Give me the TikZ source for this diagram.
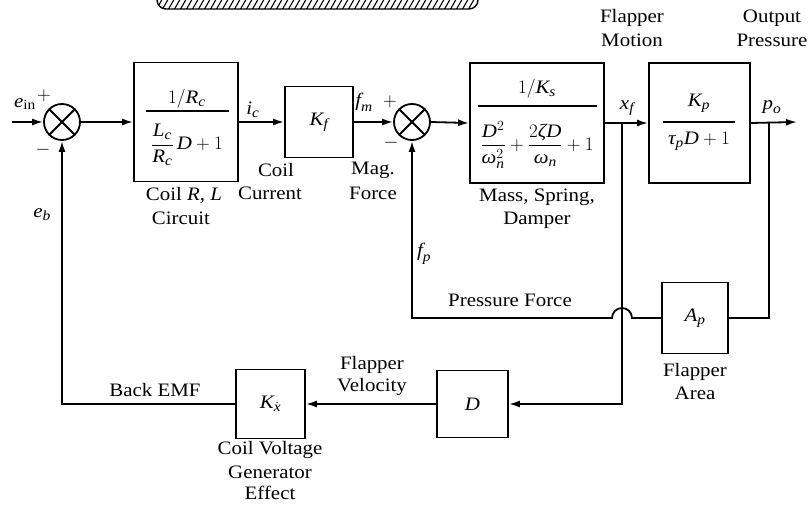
\RequirePackage{fix-cm}
\documentclass[tikz,border=0pt]{standalone}
\usepackage{amsmath}
\usepackage{fontspec}
\setmainfont{Liberation Serif}[FakeStretch=1.1]
\DeclareMathSizes{19}{19}{14}{10}
\newcommand{\mv}[1]{\textit{#1}}
\usetikzlibrary{arrows.meta}
\begin{document}
\begin{tikzpicture}[x=1pt,y=-1pt,
  every node/.style={font=\fontsize{19}{22}\selectfont, inner sep=0pt},
  blk/.style={draw, line width=1.8pt, inner sep=0pt},
  ln/.style={line width=1.8pt},
  arr/.style={line width=1.8pt, -{Latex[length=11pt,width=7pt]}},
  summer/.style={draw, circle, line width=1.8pt, minimum size=36pt, inner sep=0pt},
  fracline/.style={line width=1.4pt}]
\useasboundingbox (0,0) rectangle (809,505);

% hatched bar at the top edge
\begin{scope}
  \clip (0,0) rectangle (809,20);
  \begin{scope}
    \clip[rounded corners=9pt] (157,-12) rectangle (478,9);
    \foreach \x in {150,156,...,486} \draw[line width=1.1pt] (\x,10) -- (\x+8,-4);
  \end{scope}
  \draw[line width=1.4pt, rounded corners=9pt] (157,-12) rectangle (478,9);
\end{scope}

% summing junctions
\node[summer] (s1) at (62,122) {};
\draw[ln] (s1.north east) -- (s1.south west) (s1.north west) -- (s1.south east);
\node[summer] (s2) at (412,122) {};
\draw[ln] (s2.north east) -- (s2.south west) (s2.north west) -- (s2.south east);

% blocks
\node[blk, minimum width=104pt, minimum height=119pt] (b1) at (186,122) {};
\node[blk, minimum width=68pt, minimum height=71pt] (kf) at (319,122) {$\mv{K}_{\mv{f}}$};
\node[blk, minimum width=134pt, minimum height=120pt] (b2) at (537,123) {};
\node[blk, minimum width=101pt, minimum height=120pt] (b3) at (699.5,123) {};
\node[blk, minimum width=66pt, minimum height=71pt] (ap) at (695,318) {$\mv{A}_{\mv{p}}$};
\node[blk, minimum width=71pt, minimum height=67pt] (dd) at (472.5,404) {$\mv{D}$};
\node[blk, minimum width=69pt, minimum height=69pt] (kx) at (270.5,404) {$\mv{K}_{\dot{\mv{x}}}$};

% block contents
\node (b1n) at (187,99) {$1/\mv{R}_{\mv{c}}$};
\draw[fracline] (146,111) -- (229,111);
\node (b1d) at (187,145) {$\dfrac{\mv{L}_{\mv{c}}}{\mv{R}_{\mv{c}}}\,\mv{D}+1$};
\node (b2n) at (537,89) {$1/\mv{K}_{\mv{s}}$};
\draw[fracline] (478,106) -- (597,106);
\node (b2d) at (537,145) {$\dfrac{\mv{D}^2}{\mv{ω}_{\mv{n}}^2}+\dfrac{2\mv{ζ}\mv{D}}{\mv{ω}_{\mv{n}}}+1$};
\node (b3n) at (699,103) {$\mv{K}_{\mv{p}}$};
\draw[fracline] (663,122) -- (735,122);
\node (b3d) at (699,141) {$\mv{τ}_{\mv{p}}\mv{D}+1$};

% coordinates
\coordinate (in) at (12,122);
\coordinate (out) at (797,122);
\coordinate (xf) at (622,122);
\coordinate (po) at (769,122);
\coordinate (jr) at (632,318);
\coordinate (fpc) at (412,318);

% forward path
\draw[arr] (in) -- (s1.west);
\draw[arr] (s1.east) -- (b1.west);
\draw[arr] (b1.east) -- (kf.west);
\draw[arr] (kf.east) -- (s2.west);
\draw[arr] (s2.east) -- (b2.west);
\draw[arr] (b2.east) -- (b3.west);
\draw[arr] (b3.east) -- (out);

% feedback paths
\draw[arr] (xf) |- (dd.east);
\draw[arr] (dd.west) -- (kx.east);
\draw[arr] (kx.west) -| (s1.south);
\draw[ln] (po) |- (ap.east);
\draw[arr] (ap.west) -- (jr) arc[start angle=0, end angle=180, radius=10pt] -- (fpc) -- (s2.south);

% signal labels
\node (lein) at (25,104) {$\mv{e}_{\text{in}}$};
\node (lp1) at (44,96) {$+$};
\node (lm1) at (43,150) {$-$};
\node (leb) at (42,215) {$\mv{e}_{\mv{b}}$};
\node (lic) at (253,110) {$\mv{i}_{\mv{c}}$};
\node (lfm) at (364,102) {$\mv{f}_{\mv{m}}$};
\node (lp2) at (390,102) {$+$};
\node (lm2) at (391,143) {$-$};
\node (lfp) at (424,254) {$\mv{f}_{\mv{p}}$};
\node (lxf) at (627,108) {$\mv{x}_{\mv{f}}$};
\node (lpo) at (772,107) {$\mv{p}_{\mv{o}}$};

% descriptive labels
\node (t1) at (184,195) {Coil \textit{R}, \textit{L}};
\node (t2) at (181,218) {Circuit};
\node (t3) at (276,170) {Coil};
\node (t4) at (270,193) {Current};
\node (t5) at (373,170) {Mag.};
\node (t6) at (373,193) {Force};
\node (t7) at (537,197) {Mass, Spring,};
\node (t8) at (537,220) {Damper};
\node (t9) at (632,18) {Flapper};
\node (t10) at (632,40) {Motion};
\node (t11) at (772,18) {Output};
\node (t12) at (772,40) {Pressure};
\node (t13) at (510,300) {Pressure Force};
\node (t14) at (695,372) {Flapper};
\node (t15) at (695,393) {Area};
\node (t16) at (155,390) {Back EMF};
\node (t17) at (372,365) {Flapper};
\node (t18) at (372,387) {Velocity};
\node (t19) at (270,450) {Coil Voltage};
\node (t20) at (270,472) {Generator};
\node (t21) at (270,493) {Effect};
\end{tikzpicture}
\end{document}
